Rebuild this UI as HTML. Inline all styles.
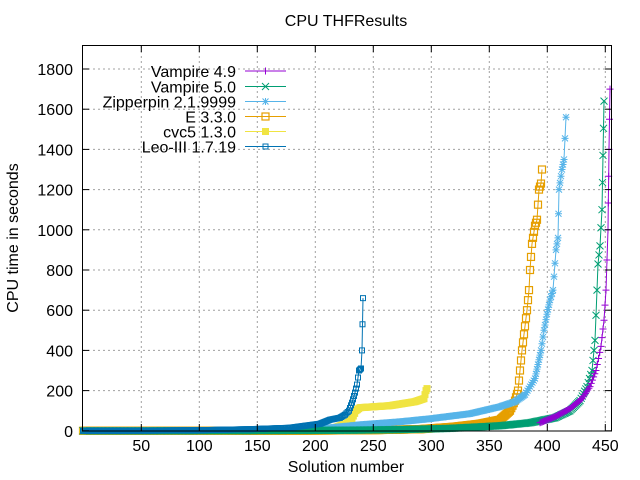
<!DOCTYPE html><html><head><meta charset="utf-8"><style>body{margin:0;background:#fff}svg{display:block;font-family:"Liberation Sans",sans-serif}</style></head><body>
<svg id="s" width="640" height="480" xmlns="http://www.w3.org/2000/svg">
<rect width="640" height="480" fill="#fff"/>
<g id="grid" stroke="#a0a0a0" stroke-width="1" stroke-dasharray="2,3"></g>
<g id="data"></g>
<rect x="82.5" y="45.5" width="529" height="385.5" fill="none" stroke="#000"/>
<g id="ticks" stroke="#000"></g>
<g id="lab" font-size="16" fill="#000"></g>
<text x="346" y="26" font-size="16" text-anchor="middle">CPU THFResults</text>
<text x="346" y="472" font-size="16" text-anchor="middle">Solution number</text>
<text transform="translate(18,238) rotate(-90)" font-size="16" text-anchor="middle">CPU time in seconds</text>
<g id="leg" font-size="16"></g>
</svg>
<script>
var NS="http://www.w3.org/2000/svg";
function el(p,t,a,txt){var e=document.createElementNS(NS,t);for(var k in a)e.setAttribute(k,a[k]);if(txt!=null)e.textContent=txt;p.appendChild(e);return e;}
var g=document.getElementById('grid'),tk=document.getElementById('ticks'),lb=document.getElementById('lab');
function py(t){return 430.8-t*0.201;}
function px(n){return 547.3+(n-400)*1.16;}
for(var v=0;v<=1800;v+=200){var y=py(v);if(v>0)el(g,'line',{x1:83,x2:611,y1:y,y2:y});
el(tk,'line',{x1:82,x2:89,y1:y,y2:y});el(tk,'line',{x1:605,x2:612,y1:y,y2:y});
el(lb,'text',{x:73,y:y+6,'text-anchor':'end'},v);}
for(var n=50;n<=450;n+=50){var x=px(n);el(g,'line',{x1:x,x2:x,y1:46,y2:430});
el(tk,'line',{x1:x,x2:x,y1:431,y2:424});el(tk,'line',{x1:x,x2:x,y1:45,y2:52});
el(lb,'text',{x:x,y:451,'text-anchor':'middle'},n);}
var d=document.getElementById('data');
function mk(p,type,x,y,c){
 if(type=='plus'){el(p,'path',{d:'M'+(x-3.5)+' '+y+'h7M'+x+' '+(y-3.5)+'v7',stroke:c,fill:'none'});}
 else if(type=='x'){el(p,'path',{d:'M'+(x-3.5)+' '+(y-3.5)+'l7 7M'+(x-3.5)+' '+(y+3.5)+'l7 -7',stroke:c,fill:'none'});}
 else if(type=='star'){el(p,'path',{d:'M'+(x-3.5)+' '+y+'h7M'+x+' '+(y-3.5)+'v7M'+(x-3)+' '+(y-3)+'l6 6M'+(x-3)+' '+(y+3)+'l6 -6',stroke:c,fill:'none'});}
 else if(type=='sq'){el(p,'rect',{x:x-3.5,y:y-3.5,width:7,height:7,stroke:c,fill:'none','stroke-width':1.2});}
 else if(type=='fsq'){el(p,'rect',{x:x-3.5,y:y-3.5,width:7,height:7,fill:c});}
 else if(type=='ssq'){el(p,'rect',{x:x-2.5,y:y-2.5,width:5,height:5,stroke:c,fill:'none'});}
}
function series(pts,c,type){
 var all=[];
 for(var i=0;i<pts.length-1;i++){var a=pts[i],b=pts[i+1];var dx=b[0]-a[0];var steps=Math.max(1,Math.round(dx/1.16));
  var dy=Math.abs(py(b[1])-py(a[1]));var st=Math.max(steps,Math.round(dy/25));
  for(var k=0;k<st;k++){var f=k/st;all.push([a[0]+dx*f,a[1]+(b[1]-a[1])*f]);}}
 all.push(pts[pts.length-1]);
 var s='';all.forEach(function(p,i){s+=(i?'L':'M')+p[0].toFixed(1)+' '+py(p[1]).toFixed(1);});
 el(d,'path',{d:s,stroke:c,fill:'none','stroke-width':1});
 all.forEach(function(p){mk(d,type,p[0],py(p[1]),c);});
}
series([[83,0],[240,0.5],[300,1],[340,2],[380,4],[420,8],[454,20],[480,35],[500,55],[510,100],[515,150],[518,200],[520,300],[522,400],[525,520],[527,600],[529,700],[530,800],[532,930],[535,1020],[537,1050],[539,1200],[541,1230],[542,1300]],'#e69f00','sq');
series([[83,0],[300,2],[315,5],[335,15],[348,40],[352,60],[356,100],[360,115],[390,125],[415,145],[424,160],[426,200],[427,210]],'#f0e442','fsq');
series([[300,5],[320,10],[360,30],[400,45],[430,60],[470,85],[500,120],[515,145],[525,180],[530,220],[535,260],[538,330],[541,400],[544,500],[547,580],[550,650],[553,700],[556,900],[558,960],[559,1200],[562,1300],[564,1350],[566,1560]],'#56b4e9','star');
series([[83,0],[150,0],[250,1],[350,3],[400,6],[450,12],[500,25],[530,40],[555,65],[570,100],[580,150],[587,220],[592,300],[595,450],[597,700],[598,830],[600,920],[602,1100],[604,1640]],'#009e73','x');
series([[540,40],[555,70],[570,110],[582,160],[590,220],[596,300],[601,420],[604,550],[606,700],[608,1000],[609,1400],[610,1700]],'#9400d3','plus');
series([[83,0],[150,1],[200,3],[250,8],[290,15],[320,35],[330,55],[340,65],[345,80],[349,100],[352,140],[355,190],[357,230],[359,300],[361,310],[362,400],[363,660]],'#0072b2','ssq');
var lg=document.getElementById('leg');
var items=[['Vampire 4.9','#9400d3','plus'],['Vampire 5.0','#009e73','x'],['Zipperpin 2.1.9999','#56b4e9','star'],['E 3.3.0','#e69f00','sq'],['cvc5 1.3.0','#f0e442','fsq'],['Leo-III 1.7.19','#0072b2','ssq']];
var ys=[71,86.5,101.5,116.5,131.5,146.5];
items.forEach(function(it,i){var y=ys[i];el(lg,'text',{x:236,y:y+6,'text-anchor':'end'},it[0]);
el(lg,'line',{x1:245,x2:286,y1:y,y2:y,stroke:it[1]});mk(lg,it[2],265.5,y,it[1]);});
</script>
</body></html>
